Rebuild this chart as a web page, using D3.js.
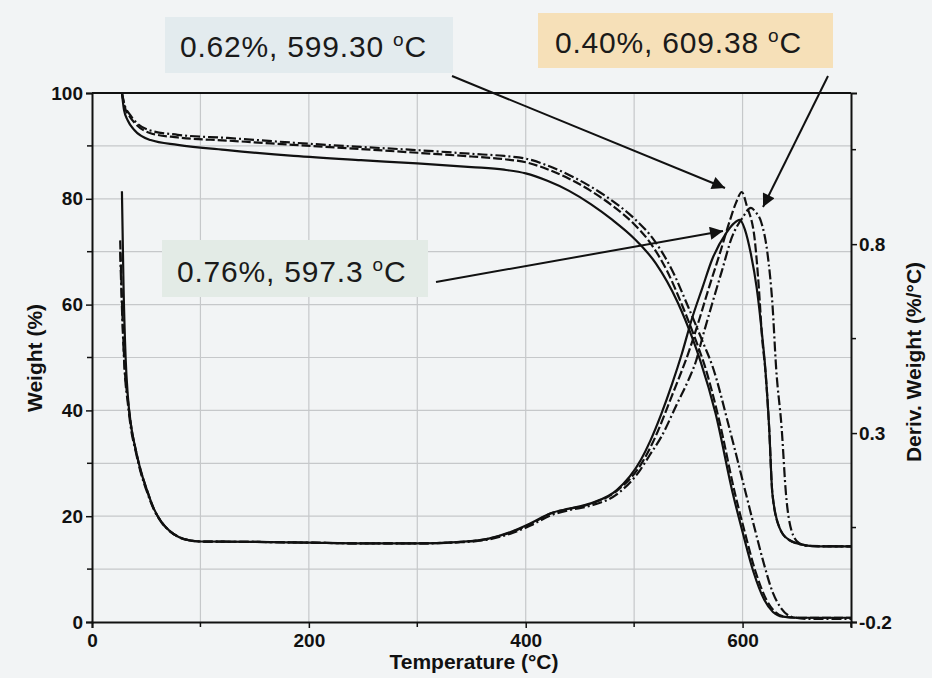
<!DOCTYPE html>
<html><head><meta charset="utf-8">
<script src="https://cdn.jsdelivr.net/npm/d3@7"></script>
<style>
html,body{margin:0;padding:0;background:#f2f4f5;}
svg{display:block;font-family:"Liberation Sans",Arial,Helvetica,sans-serif;}
</style></head>
<body><svg id="c" width="932" height="678"></svg>
<script>
// ---- data: [temperature °C, value] ----
const tgaSolid = [[27.6,100],[29.5,96.8],[33,94.8],[39,93],[54,91.1],[79,90.2],[125,89.2],[186,88.1],[248,87.3],[300,86.7],[350,86],[380,85.5],[400,84.8],[420,83.4],[440,81.5],[460,79],[480,76],[500,72.5],[520,67.8],[540,60.5],[554,53.5],[561,49.4],[575,39.5],[591,24.3],[600,17],[610,9.5],[620,4.2],[628,1.9],[637,1],[650,0.8],[700,0.8]];
const tgaDashed = [[27.6,100],[30,97.5],[35,95.5],[40,94.2],[54,92.4],[79,91.6],[125,91],[186,90.2],[248,89.4],[300,88.7],[350,88],[380,87.5],[400,86.9],[420,85.6],[440,83.8],[460,81.5],[480,78.7],[500,75.2],[513,72.2],[530,66.5],[545,59.5],[558,52.6],[565,48.5],[578,38.5],[593,24.3],[602,17],[612,9.5],[622,4.2],[630,1.9],[639,1],[650,0.8],[700,0.8]];
const tgaDashDot = [[27.6,100],[30,97.8],[35,95.9],[40,94.6],[54,92.9],[79,92.1],[125,91.5],[186,90.6],[248,89.8],[300,89.2],[350,88.5],[380,88.1],[400,87.6],[420,86.3],[440,84.5],[460,82.3],[480,79.6],[500,76.3],[519,72],[535,66.5],[550,59.5],[564,52.6],[572,48.5],[588,36.5],[604,23.5],[612,17],[619,11.5],[628,5.5],[636,2.5],[645,1],[660,0.6],[700,0.6]];

const dtgSolid = [[27.6,0.94],[29,0.70],[31,0.50],[33,0.40],[36,0.32],[40,0.26],[45,0.20],[50,0.155],[57,0.10],[64,0.065],[72,0.04],[80,0.025],[90,0.016],[100,0.013],[150,0.012],[200,0.010],[250,0.008],[300,0.008],[340,0.012],[365,0.02],[386,0.038],[405,0.062],[423,0.088],[440,0.1],[460,0.114],[484,0.149],[506,0.228],[515,0.28],[525,0.35],[535,0.43],[544,0.51],[553,0.60],[563,0.685],[572,0.76],[585,0.83],[592,0.855],[597.3,0.864],[602,0.84],[607.6,0.775],[613,0.685],[618,0.56],[621,0.47],[624.5,0.315],[627.5,0.14],[634,0.05],[643,0.017],[658,0.003],[670,0],[700,0]];
const dtgDashed = [[26,0.81],[28,0.62],[30,0.48],[33,0.39],[36,0.32],[40,0.26],[45,0.20],[50,0.155],[57,0.10],[64,0.065],[72,0.04],[80,0.025],[90,0.016],[100,0.013],[150,0.012],[200,0.010],[250,0.008],[300,0.008],[340,0.012],[365,0.02],[386,0.037],[405,0.06],[423,0.087],[440,0.099],[460,0.113],[484,0.147],[508,0.225],[518,0.28],[535,0.40],[551,0.52],[560,0.60],[569,0.685],[579,0.775],[588,0.86],[594,0.91],[599.3,0.938],[604,0.90],[611,0.817],[615,0.685],[618,0.553],[621,0.466],[624.5,0.315],[627.5,0.14],[634,0.05],[643,0.017],[658,0.003],[670,0],[700,0]];
const dtgDashDot = [[26,0.78],[28,0.60],[30,0.47],[33,0.38],[36,0.31],[40,0.255],[45,0.195],[50,0.15],[57,0.098],[64,0.064],[72,0.04],[80,0.025],[90,0.016],[100,0.013],[150,0.012],[200,0.010],[250,0.008],[300,0.008],[340,0.011],[365,0.018],[386,0.034],[405,0.056],[423,0.082],[440,0.096],[460,0.108],[484,0.138],[505,0.20],[514,0.24],[525,0.29],[540,0.38],[550,0.44],[557,0.49],[563,0.553],[572,0.643],[581,0.73],[590,0.817],[600,0.87],[607.7,0.896],[612,0.885],[617,0.86],[623,0.775],[627.5,0.643],[631,0.47],[636,0.315],[640,0.14],[645,0.043],[652,0.009],[660,0.002],[700,0]];

const xTicks = [0,200,400,600];
const xMinor = [100,300,500,700];
const yLeftTicks = [0,20,40,60,80,100];
const yLeftMinor = [10,30,50,70,90];
const yRightTicks = [0.8,0.3,-0.2];
const yRightMinor = [1.05,0.55,0.05];
const noteTexts = ["0.62%, 599.30 ", "0.40%, 609.38 ", "0.76%, 597.3 "];
const notes = [
  {text:noteTexts[0], box:[165,17,288,56], tx:180, ty:57, from:[452,76], to:[725,188], fill:"#e3ebee"},
  {text:noteTexts[1], box:[538,13,295,55], tx:555, ty:53, from:[828,76], to:[763,207], fill:"#f6e0b8"},
  {text:noteTexts[2], box:[162,240,266,57], tx:177, ty:282, from:[436,282], to:[723,231], fill:"#e3ebe6"}
];

// ---- scales ----
const svg = d3.select("#c");
const L=92, R=851, T=93, B=622;
const x = d3.scaleLinear().domain([0,700]).range([L,R]);
const yL = d3.scaleLinear().domain([0,100]).range([B,T]);
const yR = d3.scaleLinear().domain([-0.2,1.2]).range([B,T]);

// grid
const grid = svg.append("g").attr("stroke","#c6c8ca").attr("stroke-width",1.2);
grid.selectAll("line.v").data(d3.range(100,700,100)).join("line")
  .attr("x1",d=>x(d)).attr("x2",d=>x(d)).attr("y1",T).attr("y2",B);
grid.selectAll("line.h").data(d3.range(10,100,10)).join("line")
  .attr("y1",d=>yL(d)).attr("y2",d=>yL(d)).attr("x1",L).attr("x2",R);

// axes
const fontTick = "bold 19px 'Liberation Sans', Arial, sans-serif";
const fontTitle = "bold 21px 'Liberation Sans', Arial, sans-serif";
const ax = d3.axisBottom(x).tickValues(xTicks).tickSize(6).tickPadding(6);
const gx = svg.append("g").attr("transform",`translate(0,${B})`).call(ax);
gx.append("g").selectAll("line").data(xMinor).join("line")
  .attr("x1",d=>x(d)).attr("x2",d=>x(d)).attr("y1",0).attr("y2",5).attr("stroke","#111").attr("stroke-width",1.5);
const ayl = d3.axisLeft(yL).tickValues(yLeftTicks).tickSize(6).tickPadding(3);
const gyl = svg.append("g").attr("transform",`translate(${L},0)`).call(ayl);
gyl.append("g").selectAll("line").data(yLeftMinor).join("line")
  .attr("y1",d=>yL(d)).attr("y2",d=>yL(d)).attr("x1",0).attr("x2",-5).attr("stroke","#111").attr("stroke-width",1.5);
const ayr = d3.axisRight(yR).tickValues(yRightTicks).tickSize(6).tickPadding(2).tickFormat(d3.format(".1f"));
const gyr = svg.append("g").attr("transform",`translate(${R},0)`).call(ayr);
gyr.append("g").selectAll("line").data(yRightMinor).join("line")
  .attr("y1",d=>yR(d)).attr("y2",d=>yR(d)).attr("x1",0).attr("x2",5).attr("stroke","#111").attr("stroke-width",1.5);
[gx,gyl,gyr].forEach(g=>{
  g.selectAll(".domain").attr("stroke","#111").attr("stroke-width",2);
  g.selectAll(".tick line").attr("stroke","#111").attr("stroke-width",1.5);
  g.selectAll("text").style("font",fontTick).attr("fill","#111");
});
gyr.selectAll(".tick text").text(d=>d3.format(".1f")(d).replace("−","-"));
// top frame
svg.append("line").attr("x1",L).attr("x2",R).attr("y1",T).attr("y2",T).attr("stroke","#111").attr("stroke-width",2);

// titles
svg.append("text").attr("x",474).attr("y",669).attr("text-anchor","middle")
  .style("font",fontTitle).attr("fill","#111").text("Temperature (°C)");
svg.append("text").attr("transform","translate(42,358) rotate(-90)").attr("text-anchor","middle")
  .style("font",fontTitle).attr("fill","#111").text("Weight (%)");
svg.append("text").attr("transform","translate(921,362) rotate(-90)").attr("text-anchor","middle")
  .style("font",fontTitle).attr("fill","#111").text("Deriv. Weight (%/°C)");

// curves
const styles = {solid:null, dashed:"9,3", dashdot:"10,3,2,3"};
const lineL = d3.line().x(d=>x(d[0])).y(d=>yL(d[1])).curve(d3.curveMonotoneX);
const lineR = d3.line().x(d=>x(d[0])).y(d=>yR(d[1])).curve(d3.curveMonotoneX);
const curves = svg.append("g").attr("fill","none").attr("stroke","#111").attr("stroke-width",2.2);
[[tgaSolid,"solid"],[tgaDashed,"dashed"],[tgaDashDot,"dashdot"]].forEach(([d,s])=>{
  curves.append("path").datum(d).attr("d",lineL).attr("stroke-dasharray",styles[s]);
});
[[dtgSolid,"solid"],[dtgDashed,"dashed"],[dtgDashDot,"dashdot"]].forEach(([d,s])=>{
  curves.append("path").datum(d).attr("d",lineR).attr("stroke-dasharray",styles[s]);
});

// annotations
svg.append("defs").append("marker").attr("id","ah").attr("viewBox","0 0 10 10")
  .attr("refX",10).attr("refY",5).attr("markerWidth",9).attr("markerHeight",6.5)
  .attr("markerUnits","strokeWidth").attr("orient","auto")
  .append("path").attr("d","M0,0 L10,5 L0,10 z").attr("fill","#111");
const ng = svg.append("g");
notes.forEach(n=>{
  ng.append("rect").attr("x",n.box[0]).attr("y",n.box[1]).attr("width",n.box[2]).attr("height",n.box[3]).attr("fill",n.fill);
  const t = ng.append("text").attr("x",n.tx).attr("y",n.ty).attr("fill","#1a1a1a")
    .style("font","30px 'Liberation Sans', Arial, sans-serif").style("letter-spacing","0.8px");
  t.append("tspan").text(n.text);
  t.append("tspan").attr("dy",-11).style("font-size","19px").text("o");
  t.append("tspan").attr("dy",11).text("C");
  ng.append("line").attr("x1",n.from[0]).attr("y1",n.from[1]).attr("x2",n.to[0]).attr("y2",n.to[1])
    .attr("stroke","#111").attr("stroke-width",2).attr("marker-end","url(#ah)");
});
</script></body></html>
